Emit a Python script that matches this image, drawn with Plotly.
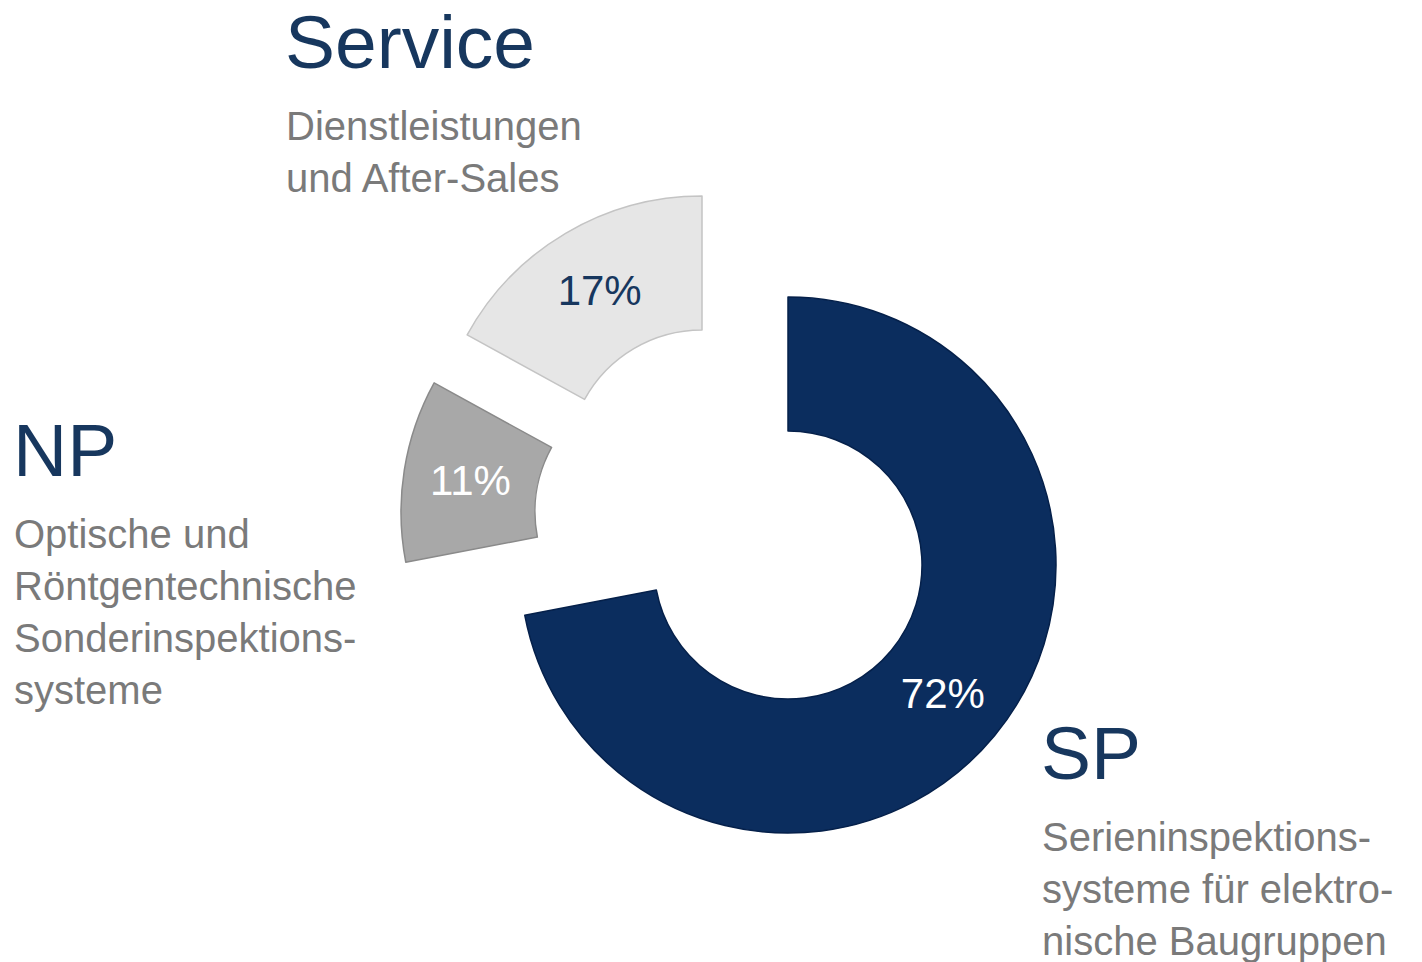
import plotly.graph_objects as go

W, H = 1422, 962

# segment shares (clockwise from 12 o'clock)
segments = ["SP", "NP", "Service"]
shares = [72, 11, 17]
share_labels = ["72%", "11%", "17%"]

descriptions = [
    "Serieninspektions-<br>systeme für elektro-<br>nische Baugruppen",
    "Optische und<br>Röntgentechnische<br>Sonderinspektions-<br>systeme",
    "Dienstleistungen<br>und After-Sales",
]

NAVY = "#17375e"
GREY_TEXT = "#7a7a7a"
FONT = "Liberation Sans, Arial, sans-serif"

slice_colors = ["#0b2d5e", "#a8a8a8", "#e6e6e6"]
slice_edges = ["#05204a", "#8a8a8a", "#c4c4c4"]
label_colors = ["white", "white", NAVY]

# exploded layout: centre (px) of each segment's ring, shared radius
R = 268
centres = [(788, 565), (669, 512), (702, 464)]

# text blocks: (left px, title top px, description top px)
blocks = [(1039, 709, 813), (11, 406, 510), (283, -2, 102)]


def px(x, y):
    return x / W, 1 - y / H


fig = go.Figure()

for i, (cx, cy) in enumerate(centres):
    show = [j == i for j in range(len(segments))]
    fig.add_trace(
        go.Pie(
            labels=segments,
            values=shares,
            sort=False,
            direction="clockwise",
            rotation=0,
            hole=0.5,
            text=[share_labels[j] if show[j] else "" for j in range(len(segments))],
            textinfo="text",
            textposition="inside",
            insidetextorientation="horizontal",
            textfont=dict(family=FONT, size=42, color=label_colors),
            marker=dict(
                colors=[slice_colors[j] if show[j] else "rgba(0,0,0,0)" for j in range(len(segments))],
                line=dict(
                    color=slice_edges,
                    width=[1.5 if s else 0 for s in show],
                ),
            ),
            domain=dict(
                x=[(cx - R) / W, (cx + R) / W],
                y=[1 - (cy + R) / H, 1 - (cy - R) / H],
            ),
            hoverinfo="label+percent",
            showlegend=False,
        )
    )

for name, desc, (left, t_top, d_top) in zip(segments, descriptions, blocks):
    x, y = px(left, t_top)
    fig.add_annotation(
        x=x, y=y, xref="paper", yref="paper", xanchor="left", yanchor="top",
        text=name, showarrow=False, align="left",
        font=dict(family=FONT, size=75, color=NAVY),
    )
    x, y = px(left + 1, d_top)
    fig.add_annotation(
        x=x, y=y, xref="paper", yref="paper", xanchor="left", yanchor="top",
        text=desc, showarrow=False, align="left",
        font=dict(family=FONT, size=40, color=GREY_TEXT),
    )

fig.update_layout(
    width=W,
    height=H,
    margin=dict(l=0, r=0, t=0, b=0),
    paper_bgcolor="white",
    plot_bgcolor="white",
    showlegend=False,
)

fig.write_html(
    "out.html",
    config={"displayModeBar": False},
    post_script="document.body.style.margin = '0';",
)
